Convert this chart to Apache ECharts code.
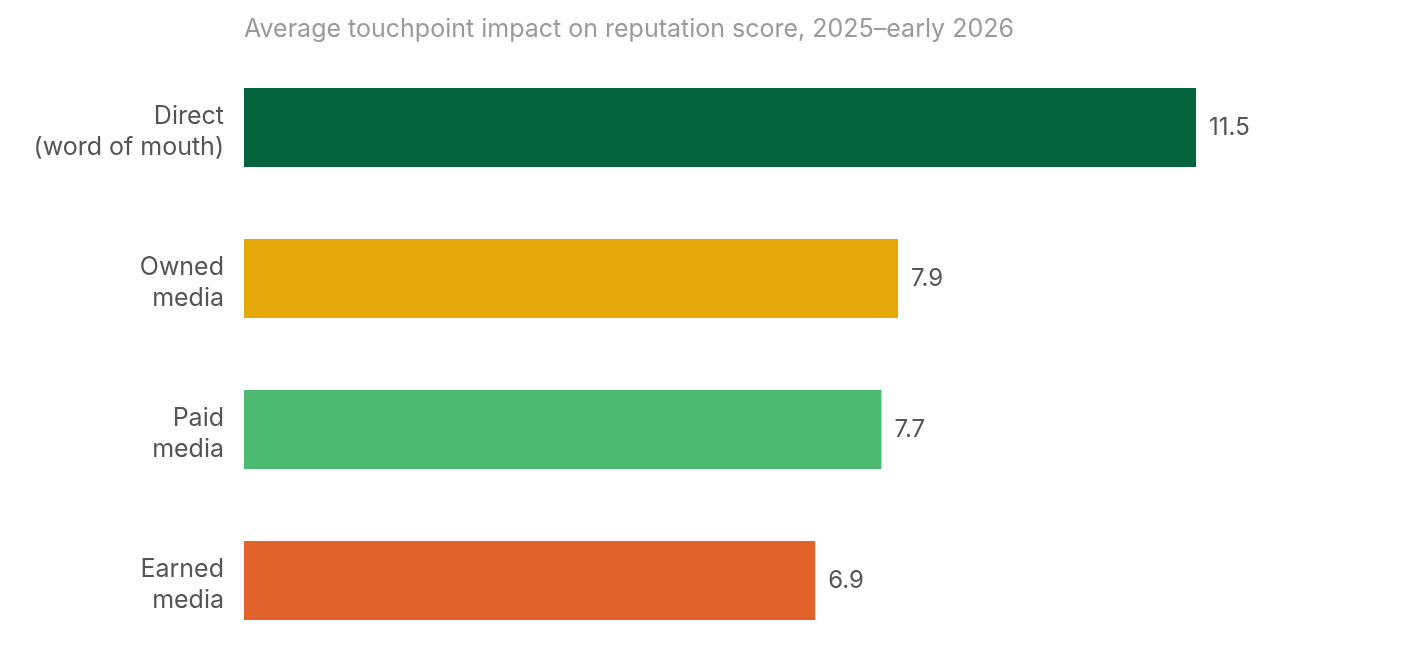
<!DOCTYPE html>
<html>
<head>
<meta charset="utf-8">
<script src="https://cdn.jsdelivr.net/npm/echarts@6/dist/echarts.min.js"></script>
<style>
  html, body { margin: 0; padding: 0; background: #fff; }
  #chart { width: 1421px; height: 665px; }
</style>
</head>
<body>
<div id="chart"></div>
<script>
var categories = ['Direct\n(word of mouth)', 'Owned\nmedia', 'Paid\nmedia', 'Earned\nmedia'];
var values = [11.5, 7.9, 7.7, 6.9];
var barColors = ['#02633c', '#e6a90b', '#4cba71', '#e2622b'];
var titleText = 'Average touchpoint impact on reputation score, 2025\u2013early 2026';

var chart = echarts.init(document.getElementById('chart'));
var option = {
    animation: false,
    textStyle: { fontFamily: 'Inter' },
    title: {
        text: titleText,
        left: 244,
        top: 17,
        padding: 0,
        textStyle: { color: '#9a9a9a', fontSize: 25, fontWeight: 'normal', fontFamily: 'Inter' }
    },
    grid: { left: 244, right: 18, top: 52, bottom: 9, containLabel: false },
    xAxis: {
        type: 'value',
        min: 0,
        max: 14,
        show: false
    },
    yAxis: {
        type: 'category',
        inverse: true,
        data: categories,
        axisLine: { show: false },
        axisTick: { show: false },
        axisLabel: {
            margin: 20,
            align: 'right',
            // small spacer line on top pushes the two text lines down a bit
            formatter: function (v) {
                return '{pad| }\n' + v.split('\n').map(function (s) {
                    return '{t|' + s + '}';
                }).join('\n');
            },
            rich: {
                pad: { fontSize: 2, lineHeight: 8 },
                t: { color: '#555', fontSize: 25, lineHeight: 31, fontFamily: 'Inter' }
            }
        }
    },
    series: [{
        type: 'bar',
        barWidth: 79,
        data: values.map(function (v, i) {
            return { value: v, itemStyle: { color: barColors[i] } };
        }),
        label: {
            show: true,
            position: 'right',
            distance: 13,
            color: '#555',
            fontSize: 24
        }
    }]
};
chart.setOption(option);
window.addEventListener('resize', function () { chart.resize(); });
</script>
</body>
</html>
